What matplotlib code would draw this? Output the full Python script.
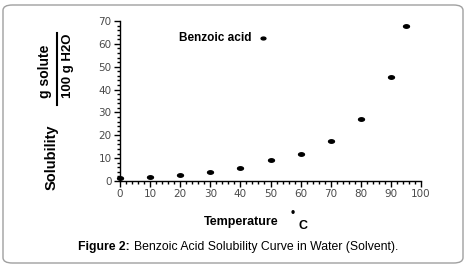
import numpy as np
import matplotlib
matplotlib.use('Agg')
import matplotlib.pyplot as plt
from matplotlib.path import Path
from matplotlib.patches import FancyBboxPatch
from matplotlib.ticker import MultipleLocator

# data
temp = [0, 10, 20, 30, 40, 50, 60, 70, 80, 90, 95]
solub = [1.4, 1.8, 2.6, 3.8, 5.8, 9.2, 11.6, 17.5, 27.0, 45.3, 67.8]
xticks = [0, 10, 20, 30, 40, 50, 60, 70, 80, 90, 100]
yticks = [0, 10, 20, 30, 40, 50, 60, 70]

# flat elliptic dot like the original
t = np.linspace(0, 2*np.pi, 30)
ell = Path(np.column_stack([1.7*np.cos(t), np.sin(t)]), closed=True)

fig = plt.figure(figsize=(4.67, 2.67), dpi=100)
fig.patches.append(FancyBboxPatch((3/467, 4/267), 460/467, 258/267,
                                  boxstyle='round,pad=0,rounding_size=0.02',
                                  transform=fig.transFigure, fc='none',
                                  ec='#a0a0a0', lw=1.0))

ax = fig.add_axes([120/467, 1-181/267, 301/467, 160/267])
ax.patch.set_alpha(0)
ax.scatter(temp, solub, marker=ell, s=18, color='black', zorder=3, clip_on=False)
ax.scatter([47.5], [62.4], marker=ell, s=12, color='black', clip_on=False)
ax.text(19.5, 62.4, 'Benzoic acid', fontsize=8.5, fontweight='bold',
        family='Liberation Sans', va='center', ha='left')

ax.set_xlim(0, 100)
ax.set_ylim(0, 70)
ax.set_xticks(xticks)
ax.set_yticks(yticks)
ax.xaxis.set_minor_locator(MultipleLocator(2))
ax.yaxis.set_minor_locator(MultipleLocator(2))
for s in ['top', 'right']:
    ax.spines[s].set_visible(False)
for s in ['left', 'bottom']:
    ax.spines[s].set_linewidth(1.0)
ax.tick_params(which='major', length=4, width=1, labelsize=7.5, labelcolor='#4a4a4a', pad=2)
ax.tick_params(which='minor', length=2, width=1)

fig.text(52/467, 1-157/267, 'Solubility', rotation=90, fontsize=10.5, fontweight='bold',
         family='Liberation Sans', ha='center', va='center')
fig.text(45/467, 1-71/267, 'g solute', rotation=90, fontsize=10, fontweight='bold',
         family='Liberation Sans', ha='center', va='center')
fig.text(68/467, 1-66/267, '100 g H2O', rotation=90, fontsize=9.5, fontweight='bold',
         family='Liberation Sans', ha='center', va='center')
fig.add_artist(plt.Line2D([57/467, 57/467], [1-33/267, 1-105/267], color='black', lw=1.5))

fig.text(241/467, 1-222/267, 'Temperature', fontsize=9, fontweight='bold',
         family='Liberation Sans', ha='center', va='center')
fig.text(293/467, 1-213/267, '•', fontsize=7, fontweight='bold', ha='center', va='center')
fig.text(303/467, 1-226/267, 'C', fontsize=9, fontweight='bold',
         family='Liberation Sans', ha='center', va='center')

fig.text(78/467, 1-247/267, 'Figure 2:', fontsize=8.8, fontweight='bold',
         family='Liberation Sans', ha='left', va='center')
fig.text(134/467, 1-247/267, 'Benzoic Acid Solubility Curve in Water (Solvent).',
         fontsize=8.8, family='Liberation Sans', ha='left', va='center')

fig.savefig('out.png', dpi=100)
